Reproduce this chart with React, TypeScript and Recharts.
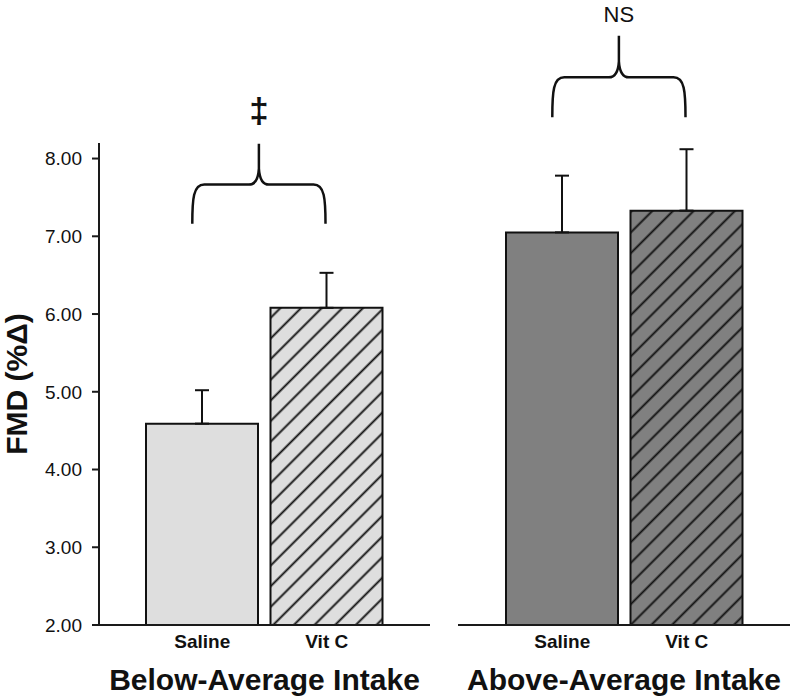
import React from 'react';
import { BarChart, Bar, XAxis, YAxis, ErrorBar, Cell, ReferenceArea } from 'recharts';

// ---- data ----
const treatments = ['Saline', 'Vit C'];
const groupLabels = ['Below-Average Intake', 'Above-Average Intake'];
const belowMeans = [4.59, 6.08];
const belowSEM = [0.43, 0.45];
const aboveMeans = [7.05, 7.33];
const aboveSEM = [0.73, 0.79];
const yTicks = [2, 3, 4, 5, 6, 7, 8];
const yDomain: [number, number] = [2, 8.2];
const significance = ['‡', 'NS'];
const braceBelowRange = [7.16, 8.19];
const braceAboveRange = [8.53, 9.58];

const belowData = treatments.map((t, i) => ({ name: t, value: belowMeans[i], err: [0, belowSEM[i]] }));
const aboveData = treatments.map((t, i) => ({ name: t, value: aboveMeans[i], err: [0, aboveSEM[i]] }));

// ---- styles ----
const FONT = '"Liberation Sans", Arial, Helvetica, sans-serif';
const INK = '#111';
const LIGHT = '#dedede';
const DARK = '#808080';
const HATCH = 14.6;

const Hatch = ({ id, base }: { id: string; base: string }) => (
  <pattern id={id} patternUnits="userSpaceOnUse" width={HATCH} height={HATCH} patternTransform="rotate(45)">
    <rect x={0} y={0} width={HATCH} height={HATCH} fill={base} />
    <line x1={HATCH / 2} y1={0} x2={HATCH / 2} y2={HATCH} stroke={INK} strokeWidth={1.9} />
  </pattern>
);

const Brace = (props: any) => {
  const { x, y, width, height, text, fontSize, fontWeight, gap, family } = props;
  const x0 = x + width * 0.21;
  const x1 = x + width * 0.745;
  const xc = (x0 + x1) / 2;
  const yt = y;
  const yb = y + height;
  const yh = y + height * 0.51;
  const d = [
    `M ${x0} ${yb}`,
    `C ${x0} ${yh + 14} ${x0 + 1} ${yh} ${x0 + 12} ${yh}`,
    `L ${xc - 10} ${yh}`,
    `Q ${xc - 1} ${yh} ${xc} ${yh - 16}`,
    `L ${xc} ${yt}`,
    `M ${xc} ${yh - 16}`,
    `Q ${xc + 1} ${yh} ${xc + 10} ${yh}`,
    `L ${x1 - 12} ${yh}`,
    `C ${x1 - 1} ${yh} ${x1} ${yh + 14} ${x1} ${yb}`,
  ].join(' ');
  return (
    <g>
      <path d={d} fill="none" stroke={INK} strokeWidth={2.5} strokeLinejoin="round" />
      <text x={xc} y={yt - gap} textAnchor="middle" fontSize={fontSize} fontWeight={fontWeight} fontFamily={family} fill={INK}>
        {text}
      </text>
    </g>
  );
};

const axisLine = { stroke: '#1a1a1a', strokeWidth: 2 };
const xTick = { fontSize: 19, fontWeight: 700, fill: INK, fontFamily: FONT };
const groupLabelStyle = { fontSize: 30, fontWeight: 700, fill: INK, fontFamily: FONT };

export default function App() {
  return (
    <div style={{ position: 'absolute', left: 0, top: 0, width: 791, height: 697, background: '#fff', fontFamily: FONT }}>
      <div style={{ position: 'absolute', left: 0, top: 0 }}>
        <BarChart width={440} height={697} data={belowData} margin={{ top: 143, right: 10, bottom: 7, left: 0 }} barSize={112}>
          <defs>
            <Hatch id="hatchLight" base={LIGHT} />
          </defs>
          <XAxis
            dataKey="name"
            padding={{ left: 41, right: 41 }}
            height={65}
            tickLine={false}
            tickSize={0}
            tickMargin={10}
            axisLine={axisLine}
            tick={xTick}
            label={{ value: groupLabels[0], position: 'insideBottom', offset: 0, ...groupLabelStyle }}
          />
          <YAxis
            type="number"
            domain={yDomain}
            ticks={yTicks}
            allowDataOverflow
            width={99}
            tickSize={7}
            tickMargin={10}
            tickLine={axisLine}
            axisLine={axisLine}
            tickFormatter={(v: number) => v.toFixed(2)}
            tick={{ fontSize: 19, fill: INK, fontFamily: FONT }}
            label={{
              value: 'FMD (%Δ)',
              angle: -90,
              position: 'insideLeft',
              offset: 16,
              fontSize: 30,
              fontWeight: 700,
              fill: INK,
              fontFamily: FONT,
              style: { textAnchor: 'middle' },
            }}
          />
          <Bar dataKey="value" isAnimationActive={false} stroke={INK} strokeWidth={2}>
            <Cell fill={LIGHT} />
            <Cell fill="url(#hatchLight)" />
            <ErrorBar dataKey="err" direction="y" width={7} stroke={INK} strokeWidth={2} isAnimationActive={false} />
          </Bar>
          <ReferenceArea
            x1={treatments[0]}
            x2={treatments[1]}
            y1={braceBelowRange[0]}
            y2={braceBelowRange[1]}
            ifOverflow="visible"
            shape={(p: any) => <Brace {...p} text={significance[0]} fontSize={35} fontWeight={700} gap={21} family={FONT} />}
          />
        </BarChart>
      </div>
      <div style={{ position: 'absolute', left: 440, top: 0 }}>
        <BarChart width={351} height={697} data={aboveData} margin={{ top: 143, right: 1, bottom: 7, left: 18 }} barSize={112}>
          <defs>
            <Hatch id="hatchDark" base={DARK} />
          </defs>
          <XAxis
            dataKey="name"
            padding={{ left: 42, right: 41 }}
            height={65}
            tickLine={false}
            tickSize={0}
            tickMargin={10}
            axisLine={axisLine}
            tick={xTick}
            label={{ value: groupLabels[1], position: 'insideBottom', offset: 0, ...groupLabelStyle }}
          />
          <YAxis type="number" domain={yDomain} ticks={yTicks} allowDataOverflow hide />
          <Bar dataKey="value" isAnimationActive={false} stroke={INK} strokeWidth={2}>
            <Cell fill={DARK} />
            <Cell fill="url(#hatchDark)" />
            <ErrorBar dataKey="err" direction="y" width={7} stroke={INK} strokeWidth={2} isAnimationActive={false} />
          </Bar>
          <ReferenceArea
            x1={treatments[0]}
            x2={treatments[1]}
            y1={braceAboveRange[0]}
            y2={braceAboveRange[1]}
            ifOverflow="visible"
            shape={(p: any) => <Brace {...p} text={significance[1]} fontSize={22} fontWeight={400} gap={14} family={FONT} />}
          />
        </BarChart>
      </div>
    </div>
  );
}
